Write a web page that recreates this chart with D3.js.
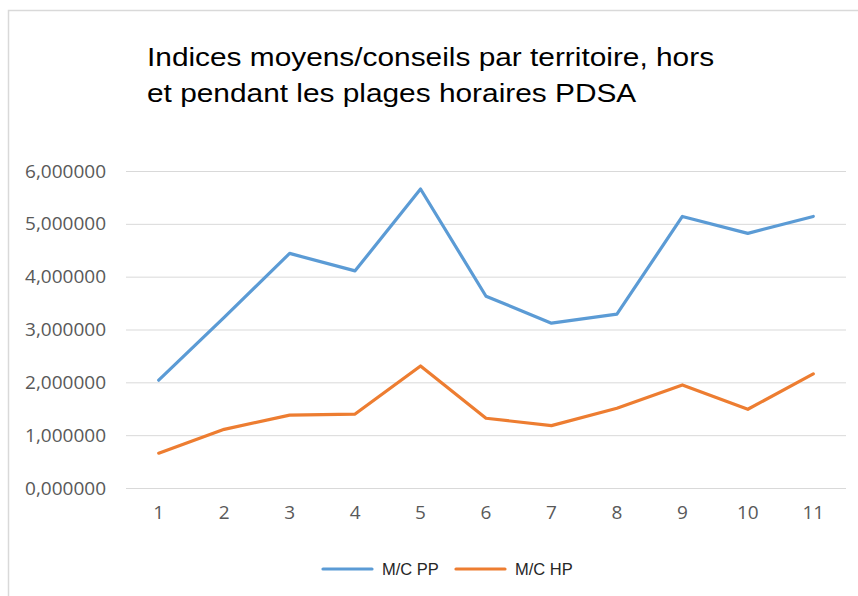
<!DOCTYPE html>
<meta charset="utf-8">
<html>
<head>
    <title>Indices moyens/conseils</title>
    <style>
        body { margin: 0; background: #fff; }
    </style>
</head>
<body>
    <svg></svg>

    <script src="https://cdnjs.cloudflare.com/ajax/libs/d3/7.8.5/d3.min.js"></script>
    <script>
        // Data
        var territoires = ["1", "2", "3", "4", "5", "6", "7", "8", "9", "10", "11"];
        var mcPP = [2.04, 3.23, 4.44, 4.11, 5.66, 3.63, 3.12, 3.29, 5.14, 4.82, 5.14];
        var mcHP = [0.66, 1.11, 1.38, 1.40, 2.31, 1.32, 1.18, 1.51, 1.95, 1.49, 2.16];
        var yTicks = [0, 1, 2, 3, 4, 5, 6];
        var seriesNames = ["M/C PP", "M/C HP"];
        var colors = ["#5b9bd5", "#ed7d31"];
        var titleLines = ["Indices moyens/conseils par territoire, hors", "et pendant les plages horaires PDSA"];

        // Configuration
        var width = 858;
        var height = 596;
        var plot = { left: 126, right: 846, top: 171, bottom: 488 };

        var svg = d3.select("svg")
            .attr("width", width)
            .attr("height", height);

        // chart frame (only top and left edges are visible)
        svg.append("rect")
            .attr("x", 8.5).attr("y", 10.5)
            .attr("width", 900).attr("height", 700)
            .attr("fill", "none")
            .attr("stroke", "#d9d9d9")
            .attr("stroke-width", 1.5);

        var x = d3.scaleBand()
            .domain(territoires)
            .range([plot.left, plot.right]);

        var y = d3.scaleLinear()
            .domain([0, 6])
            .range([plot.bottom, plot.top]);

        // Title (the original is a bit stretched horizontally)
        svg.append("g")
            .attr("transform", "translate(147,0) scale(1.17,1)")
            .selectAll("text")
            .data(titleLines)
            .enter()
            .append("text")
            .attr("x", 0)
            .attr("y", (d, i) => 66 + i * 36)
            .attr("font-family", "'Liberation Sans', Arial, sans-serif")
            .attr("font-size", 25.5)
            .attr("fill", "#000")
            .text(d => d);

        // Gridlines + y labels
        var yAxis = d3.axisLeft(y)
            .tickValues(yTicks)
            .tickSize(-(plot.right - plot.left))
            .tickPadding(20)
            .tickFormat(d => d3.format(".6f")(d).replace(".", ","));

        var gy = svg.append("g")
            .attr("transform", `translate(${plot.left},0)`)
            .call(yAxis);
        gy.select(".domain").remove();
        gy.selectAll("line").attr("stroke", "#d9d9d9").attr("stroke-width", 1);
        gy.selectAll("text")
            .attr("font-family", "'Open Sans', sans-serif")
            .attr("font-size", 19)
            .attr("fill", "#595959");

        // x labels
        var xAxis = d3.axisBottom(x).tickSize(0).tickPadding(18);
        var gx = svg.append("g")
            .attr("transform", `translate(0,${plot.bottom})`)
            .call(xAxis);
        gx.select(".domain").remove();
        gx.selectAll("text")
            .attr("font-family", "'Open Sans', sans-serif")
            .attr("font-size", 19)
            .attr("fill", "#595959");

        // Lines
        var line = d3.line()
            .x((d, i) => x(territoires[i]) + x.bandwidth() / 2)
            .y(d => y(d));

        svg.append("g")
            .selectAll("path")
            .data([mcPP, mcHP])
            .enter()
            .append("path")
            .attr("d", d => line(d))
            .attr("fill", "none")
            .attr("stroke", (d, i) => colors[i])
            .attr("stroke-width", 3.2)
            .attr("stroke-linejoin", "round")
            .attr("stroke-linecap", "round");

        // Legend
        var legendX = [323, 456];
        var legend = svg.append("g")
            .selectAll("g")
            .data(seriesNames)
            .enter()
            .append("g")
            .attr("transform", (d, i) => `translate(${legendX[i]},569)`);

        legend.append("line")
            .attr("x1", 0).attr("x2", 49)
            .attr("stroke", (d, i) => colors[i])
            .attr("stroke-width", 3.2)
            .attr("stroke-linecap", "round");

        legend.append("text")
            .attr("x", 59)
            .attr("y", 6)
            .attr("font-family", "'Liberation Sans', Arial, sans-serif")
            .attr("font-size", 16.5)
            .attr("fill", "#262626")
            .text(d => d);
    </script>
</body>
</html>
